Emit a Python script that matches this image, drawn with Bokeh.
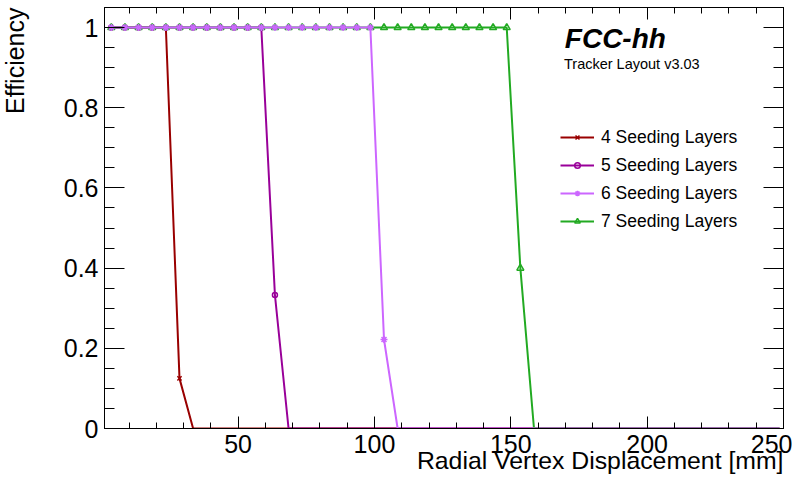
from bokeh.plotting import figure
from bokeh.models import (LinearAxis, SingleIntervalTicker, CustomJSTickFormatter, Label,
                          Legend, LegendItem, Range1d, Title)
from bokeh.embed import file_html
from bokeh.resources import INLINE

# ---------------- data ----------------
radial_mm = [3.5, 8.5, 13.5, 18.5, 23.5, 28.5, 33.5, 38.5, 43.5, 48.5,
             53.5, 58.5, 63.5, 68.5, 73.5, 78.5, 83.5, 88.5, 93.5, 98.5,
             103.5, 108.5, 113.5, 118.5, 123.5, 128.5, 133.5, 138.5, 143.5, 148.5,
             153.5, 158.5, 163.5, 168.5, 173.5, 178.5, 183.5, 188.5, 193.5, 198.5,
             203.5, 208.5, 213.5, 218.5, 223.5, 228.5, 233.5, 238.5, 243.5, 248.5]

eff_4_layers = [1, 1, 1, 1, 1, 0.125, 0, 0, 0, 0,
                0, 0, 0, 0, 0, 0, 0, 0, 0, 0,
                0, 0, 0, 0, 0, 0, 0, 0, 0, 0,
                0, 0, 0, 0, 0, 0, 0, 0, 0, 0,
                0, 0, 0, 0, 0, 0, 0, 0, 0, 0]
eff_5_layers = [1, 1, 1, 1, 1, 1, 1, 1, 1, 1,
                1, 1, 0.333, 0, 0, 0, 0, 0, 0, 0,
                0, 0, 0, 0, 0, 0, 0, 0, 0, 0,
                0, 0, 0, 0, 0, 0, 0, 0, 0, 0,
                0, 0, 0, 0, 0, 0, 0, 0, 0, 0]
eff_6_layers = [1, 1, 1, 1, 1, 1, 1, 1, 1, 1,
                1, 1, 1, 1, 1, 1, 1, 1, 1, 1,
                0.222, 0, 0, 0, 0, 0, 0, 0, 0, 0,
                0, 0, 0, 0, 0, 0, 0, 0, 0, 0,
                0, 0, 0, 0, 0, 0, 0, 0, 0, 0]
eff_7_layers = [1, 1, 1, 1, 1, 1, 1, 1, 1, 1,
                1, 1, 1, 1, 1, 1, 1, 1, 1, 1,
                1, 1, 1, 1, 1, 1, 1, 1, 1, 1,
                0.4, 0, 0, 0, 0, 0, 0, 0, 0, 0,
                0, 0, 0, 0, 0, 0, 0, 0, 0, 0]

series_labels = ["4 Seeding Layers", "5 Seeding Layers", "6 Seeding Layers", "7 Seeding Layers"]
x_label = "Radial Vertex Displacement [mm]"
y_label = "Efficiency"
title_main = "FCC-hh"
title_sub = "Tracker Layout v3.03"
x_tick_interval = 50
y_tick_interval = 0.2

FONT = "Liberation Sans"

# ---------------- figure ----------------
p = figure(width=792, height=487, output_backend="svg", toolbar_location=None,
           x_range=Range1d(1, 250), y_range=Range1d(0, 1.05),
           min_border_left=103, min_border_right=9, min_border_top=7, min_border_bottom=59)
p.grid.visible = False
p.background_fill_color = "white"
p.border_fill_color = "white"
p.outline_line_color = "black"
p.outline_line_width = 1

fmt = CustomJSTickFormatter(code="return (Math.round(tick*10)/10).toString();")

xt = SingleIntervalTicker(interval=x_tick_interval, num_minor_ticks=5)
yt = SingleIntervalTicker(interval=y_tick_interval, num_minor_ticks=4)

xa = p.xaxis[0]
ya = p.yaxis[0]
xa.ticker = xt
ya.ticker = yt
xa.formatter = fmt
ya.formatter = fmt

top = LinearAxis(ticker=xt, major_label_text_font_size="0px", major_label_standoff=0,
                 major_label_text_alpha=0)
right = LinearAxis(ticker=yt, major_label_text_font_size="0px", major_label_standoff=0,
                   major_label_text_alpha=0)
p.add_layout(top, "above")
p.add_layout(right, "right")

for ax in (xa, top):
    ax.major_tick_in = 12
    ax.major_tick_out = 0
    ax.minor_tick_in = 6
    ax.minor_tick_out = 0
for ax in (ya, right):
    ax.major_tick_in = 20
    ax.major_tick_out = 0
    ax.minor_tick_in = 10
    ax.minor_tick_out = 0
for ax in (xa, ya, top, right):
    ax.axis_line_color = "black"
    ax.major_tick_line_color = "black"
    ax.minor_tick_line_color = "black"
for ax in (xa, ya):
    ax.major_label_text_font = FONT
    ax.major_label_text_font_size = "25px"
    ax.major_label_text_color = "black"
    ax.major_label_standoff = 6

# spacer so the y title sits further out, at the left edge (as in the original)
ya.axis_label = "\u00a0"
ya.axis_label_text_font_size = "1px"
ya.axis_label_standoff = 26

# ---------------- axis titles (right/top aligned as in the original) ----------------
ytitle = Title(text=y_label, align="right", vertical_align="top", standoff=0,
               text_font=FONT, text_font_size="25px", text_font_style="normal",
               text_color="black")
xtitle = Title(text=x_label, align="right", vertical_align="top", standoff=0,
               text_font=FONT, text_font_size="24.8px", text_font_style="normal",
               text_color="black")
try:
    ytitle.text_align = "right"
    ytitle.text_baseline = "bottom"
    xtitle.text_align = "right"
    xtitle.text_baseline = "middle"
except Exception:
    pass
try:
    xtitle.standoff = -17
except Exception:
    pass
p.add_layout(ytitle, "left")
p.add_layout(xtitle, "below")

# ---------------- series ----------------
styles = {
    "4 Seeding Layers": dict(color="#990000", marker="x", size=6),
    "5 Seeding Layers": dict(color="#990099", marker="circle", size=5),
    "6 Seeding Layers": dict(color="#cc66ff", marker="asterisk", size=7),
    "7 Seeding Layers": dict(color="#22aa22", marker="triangle", size=7),
}
data = {
    "4 Seeding Layers": eff_4_layers,
    "5 Seeding Layers": eff_5_layers,
    "6 Seeding Layers": eff_6_layers,
    "7 Seeding Layers": eff_7_layers,
}
renderers = {}
for name in ["4 Seeding Layers", "5 Seeding Layers", "7 Seeding Layers", "6 Seeding Layers"]:
    st = styles[name]
    ys = data[name]
    lr = p.line(radial_mm, ys, line_color=st["color"], line_width=2)
    # markers sitting on the lower frame edge are not drawn (as in the original)
    mx = [x for x, y in zip(radial_mm, ys) if y > 0]
    my = [y for y in ys if y > 0]
    sr = p.scatter(mx, my, marker=st["marker"], size=st["size"],
                   line_color=st["color"], fill_color=None, line_width=1.5)
    renderers[name] = [lr, sr]

legend = Legend(items=[LegendItem(label=n, renderers=renderers[n]) for n in series_labels],
                location=(456, 193), glyph_width=34, glyph_height=14, label_height=28,
                label_standoff=7, spacing=0, padding=0, margin=0,
                border_line_color=None, background_fill_alpha=0,
                label_text_font=FONT, label_text_font_size="17.5px",
                label_text_color="black", label_text_baseline="middle")
p.add_layout(legend)

# ---------------- texts ----------------
p.add_layout(Label(x=169.8, y=0.9726, text=title_main, text_font=FONT, text_font_size="28px",
                   text_font_style="bold italic", text_color="black",
                   text_align="left", text_baseline="middle"))
p.add_layout(Label(x=169.5, y=0.910, text=title_sub, text_font=FONT,
                   text_font_size="14.5px", text_color="black",
                   text_align="left", text_baseline="middle"))

open("out.html", "w").write(file_html(p, INLINE))
